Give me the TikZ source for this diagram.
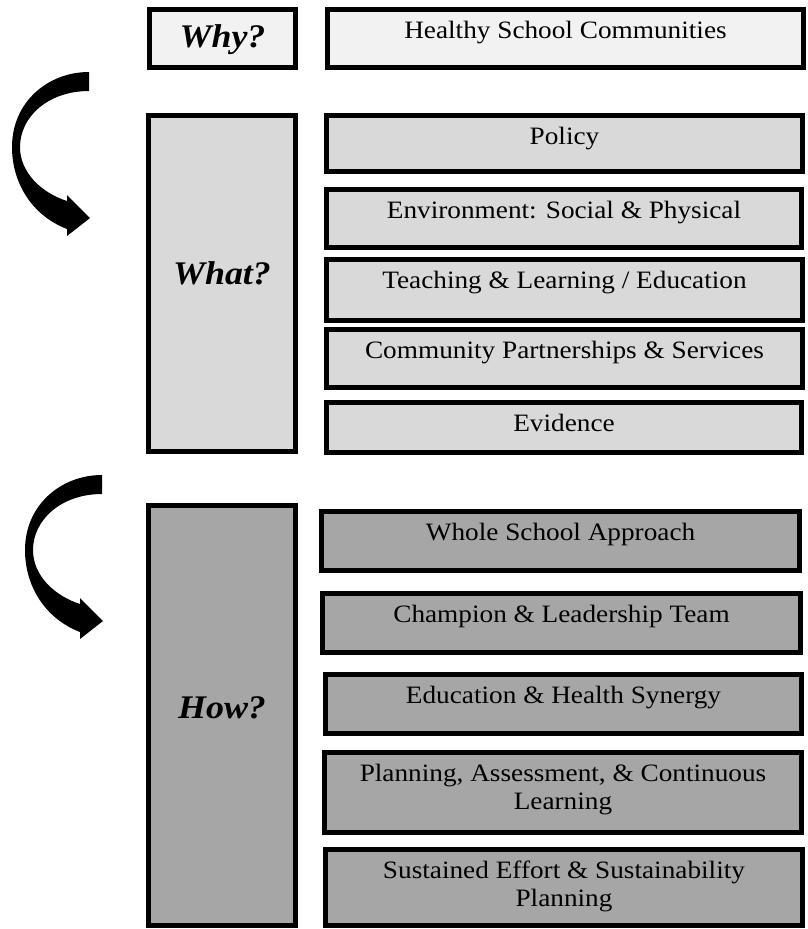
\documentclass[tikz,border=0pt]{standalone}
\usepackage{fontspec}
\setmainfont{Liberation Serif}[FakeStretch=1.09]
\definecolor{whyfill}{HTML}{F2F2F2}
\definecolor{whatfill}{HTML}{D9D9D9}
\definecolor{howfill}{HTML}{A6A6A6}

% panel{name}{x1}{y1}{x2}{y2}{fill}: box given by its outer edges
\newcommand\panel[6]{%
  \node[panelbox, fill=#6, minimum width={#4-#2-5}, minimum height={#5-#3-5}]
    (#1) at ({(#2+#4)/2},{(#3+#5)/2}) {};}

\tikzset{
  panelbox/.style={draw=black, line width=5pt, rectangle, inner sep=0pt},
  bodytext/.style={anchor=base, inner sep=0pt, align=center,
    font=\fontsize{25}{28}\selectfont},
  headtext/.style={anchor=base, inner sep=0pt,
    font=\fontsize{33}{36}\selectfont\bfseries\itshape},
  bend arrow/.pic={
    \fill[black] (89,72) .. controls (48,72) and (12,102) .. (12,147)
      .. controls (12,184) and (33,216) .. (67,229)
      -- (67,236) -- (90,218) -- (67,195) -- (67,201)
      .. controls (42,193) and (20,173) .. (20,147)
      .. controls (20,117) and (48,91) .. (89,91) -- cycle;
  }
}

\begin{document}
\begin{tikzpicture}[x=1pt, y=-1pt]
\useasboundingbox (0,0) rectangle (807,929);

% Why
\panel{why}{147}{7}{298}{70}{whyfill}
\panel{goal}{325}{7}{806}{70}{whyfill}
\node[headtext] (t-why) at (222.5,47) {Why?};
\node[bodytext] (t-goal) at ([yshift=-31pt]goal.north) {Healthy School Communities};

% What
\panel{what}{146}{113}{298}{454}{whatfill}
\panel{policy}{324}{113}{805}{174}{whatfill}
\panel{env}{324}{187}{804}{250}{whatfill}
\panel{teach}{324}{257}{805}{323}{whatfill}
\panel{comm}{324}{327}{805}{390}{whatfill}
\panel{evid}{324}{400}{804}{455}{whatfill}
\node[headtext] (t-what) at (222,284) {What?};
\node[bodytext] (t-policy) at ([yshift=-31pt]policy.north) {Policy};
\node[bodytext] (t-env) at ([yshift=-31pt]env.north) {Environment: Social \& Physical};
\node[bodytext] (t-teach) at ([yshift=-31pt]teach.north) {Teaching \& Learning / Education};
\node[bodytext] (t-comm) at ([yshift=-31pt]comm.north) {Community Partnerships \& Services};
\node[bodytext] (t-evid) at ([yshift=-31pt]evid.north) {Evidence};

% How
\panel{how}{146}{503}{298}{928}{howfill}
\panel{whole}{319}{509}{802}{573}{howfill}
\panel{champ}{320}{591}{803}{655}{howfill}
\panel{edu}{323}{672}{804}{736}{howfill}
\panel{plan}{322}{750}{804}{835}{howfill}
\panel{sust}{323}{847}{805}{928}{howfill}
\node[headtext] (t-how) at (222,718) {How?};
\node[bodytext] (t-whole) at ([yshift=-31pt]whole.north) {Whole School Approach};
\node[bodytext] (t-champ) at ([yshift=-31pt]champ.north) {Champion \& Leadership Team};
\node[bodytext] (t-edu) at ([yshift=-31pt]edu.north) {Education \& Health Synergy};
% two-line labels: the base anchor sits on the last line
\node[bodytext] (t-plan) at ([yshift=-59pt]plan.north) {Planning, Assessment, \& Continuous\\Learning};
\node[bodytext] (t-sust) at ([yshift=-59pt]sust.north) {Sustained Effort \& Sustainability\\Planning};

% curved arrows leading from one level to the next
\pic at (0,0) {bend arrow};
\pic at (13,403) {bend arrow};
\end{tikzpicture}
\end{document}
